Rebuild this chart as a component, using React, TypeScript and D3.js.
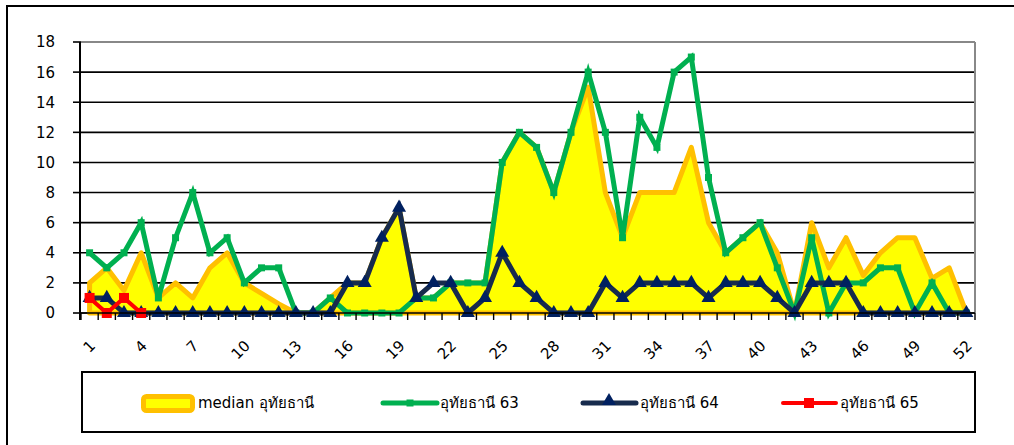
import React from 'react';
import * as d3 from 'd3';

// weeks 1..52
const weeks = d3.range(1, 53).map(String);
const tickWeeks = weeks.filter((_, i) => i % 3 === 0);
const yTicks = [0, 2, 4, 6, 8, 10, 12, 14, 16, 18];

const median = [2, 3, 1.5, 4, 1, 2, 1, 3, 4, 2, 1.3, 0.6, 0, 0, 1, 2, 2, 5, 7, 1, 1, 2, 2, 2, 10, 12, 11, 8, 12, 15, 8, 5, 8, 8, 8, 11, 6, 4, 5, 6, 4, 0, 6, 3, 5, 2.5, 4, 5, 5, 2.3, 3, 0];
const y63 = [4, 3, 4, 6, 1, 5, 8, 4, 5, 2, 3, 3, 0, 0, 1, 0, 0, 0, 0, 1, 1, 2, 2, 2, 10, 12, 11, 8, 12, 16, 12, 5, 13, 11, 16, 17, 9, 4, 5, 6, 3, 0, 5, 0, 2, 2, 3, 3, 0, 2, 0, 0];
const y64 = [1, 1, 0, 0, 0, 0, 0, 0, 0, 0, 0, 0, 0, 0, 0, 2, 2, 5, 7, 1, 2, 2, 0, 1, 4, 2, 1, 0, 0, 0, 2, 1, 2, 2, 2, 2, 1, 2, 2, 2, 1, 0, 2, 2, 2, 0, 0, 0, 0, 0, 0, 0];
const y65 = [1, 0, 1, 0];

const legendLabels = ['median อุทัยธานี', 'อุทัยธานี 63', 'อุทัยธานี 64', 'อุทัยธานี 65'];

const YELLOW = '#FFFF00';
const ORANGE = '#FFC000';
const GREEN = '#00B050';
const NAVY = '#172B4D';
const NAVY_MK = '#002060';
const RED = '#FF0000';
const FONT = "'DejaVu Sans', Tahoma, sans-serif";

const App: React.FC = () => {
  const width = 1014;
  const height = 445;
  const left = 81, right = 975, top = 42, bottom = 313;

  const x = d3.scaleBand().domain(weeks).range([left, right]);
  const cx = (i: number) => (x(weeks[i]) as number) + x.bandwidth() / 2;
  const y = d3.scaleLinear().domain([0, 18]).range([bottom, top]);

  const area = d3.area<number>().x((_, i) => cx(i)).y0(y(0)).y1(d => y(d));
  const line = d3.line<number>().x((_, i) => cx(i)).y(d => y(d));

  const sq = (s: number) => d3.symbol().type(d3.symbolSquare).size(s * s)() as string;
  const tri = d3.symbol().type(d3.symbolTriangle).size(85)() as string;

  const legendY = 403;

  return (
    <svg width={width} height={height} style={{ position: 'absolute', left: 0, top: 0, background: '#fff' }}>
      <rect x={7} y={6} width={1030} height={460} fill="#fff" stroke="#000" strokeWidth={2} />

      {/* grid */}
      {yTicks.map(t => (
        <g key={t}>
          <line x1={left} x2={right} y1={y(t)} y2={y(t)} stroke={t === 18 ? '#888' : '#000'} strokeWidth={t === 18 ? 2 : 1.6} />
          <line x1={73} x2={left} y1={y(t)} y2={y(t)} stroke="#000" strokeWidth={1.6} />
          <text x={55} y={y(t)} dy="0.36em" textAnchor="end" fontFamily={FONT} fontSize={15}>{t}</text>
        </g>
      ))}
      <line x1={right} x2={right} y1={top} y2={bottom} stroke="#888" strokeWidth={2} />

      {/* median */}
      <path d={area(median) as string} fill={YELLOW} stroke={ORANGE} strokeWidth={5} strokeLinejoin="round" />

      {/* 63 */}
      <path d={line(y63) as string} fill="none" stroke={GREEN} strokeWidth={5} />
      {y63.map((v, i) => (
        <path key={i} d={sq(7)} transform={`translate(${cx(i)},${y(v)})`} fill={GREEN} />
      ))}

      {/* 64 */}
      <path d={line(y64) as string} fill="none" stroke={NAVY} strokeWidth={5} />
      {y64.map((v, i) => (
        <path key={i} d={tri} transform={`translate(${cx(i)},${y(v)})`} fill={NAVY_MK} />
      ))}

      {/* 65 */}
      <path d={line(y65) as string} fill="none" stroke={RED} strokeWidth={4} />
      {y65.map((v, i) => (
        <path key={i} d={sq(10)} transform={`translate(${cx(i)},${y(v)})`} fill={RED} />
      ))}

      {/* axes */}
      <line x1={80} x2={80} y1={top} y2={320} stroke="#000" strokeWidth={2} />
      <line x1={left} x2={right} y1={bottom} y2={bottom} stroke="#000" strokeWidth={1.6} />
      {weeks.map(w => (
        <line key={w} x1={x(w) as number} x2={x(w) as number} y1={bottom} y2={320} stroke="#000" strokeWidth={1.4} />
      ))}
      <line x1={right} x2={right} y1={bottom} y2={320} stroke="#000" strokeWidth={1.4} />
      {tickWeeks.map(w => {
        const px = (x(w) as number) + x.bandwidth() / 2;
        return (
          <text key={w} transform={`translate(${px + 3},${343}) rotate(-45)`} dy="0.35em" textAnchor="end" fontFamily={FONT} fontSize={15}>{w}</text>
        );
      })}

      {/* legend */}
      <rect x={82} y={372} width={893} height={60} fill="#fff" stroke="#000" strokeWidth={2} />
      <rect x={143.5} y={396.5} width={49} height={14} rx={3} fill={YELLOW} stroke={ORANGE} strokeWidth={5} />
      <text x={198} y={legendY} dy="0.35em" fontFamily={FONT} fontSize={15}>{legendLabels[0]}</text>

      <line x1={383} x2={437} y1={legendY} y2={legendY} stroke={GREEN} strokeWidth={5} strokeLinecap="round" />
      <path d={sq(7)} transform={`translate(410,${legendY})`} fill={GREEN} />
      <text x={440} y={legendY} dy="0.35em" fontFamily={FONT} fontSize={15}>{legendLabels[1]}</text>

      <line x1={583} x2={636} y1={legendY} y2={legendY} stroke={NAVY} strokeWidth={5} strokeLinecap="round" />
      <path d={tri} transform={`translate(609,${legendY - 2})`} fill={NAVY_MK} />
      <text x={640} y={legendY} dy="0.35em" fontFamily={FONT} fontSize={15}>{legendLabels[2]}</text>

      <line x1={783} x2={836} y1={legendY} y2={legendY} stroke={RED} strokeWidth={4} strokeLinecap="round" />
      <path d={sq(10)} transform={`translate(809,${legendY})`} fill={RED} />
      <text x={840} y={legendY} dy="0.35em" fontFamily={FONT} fontSize={15}>{legendLabels[3]}</text>
    </svg>
  );
};

export default App;
